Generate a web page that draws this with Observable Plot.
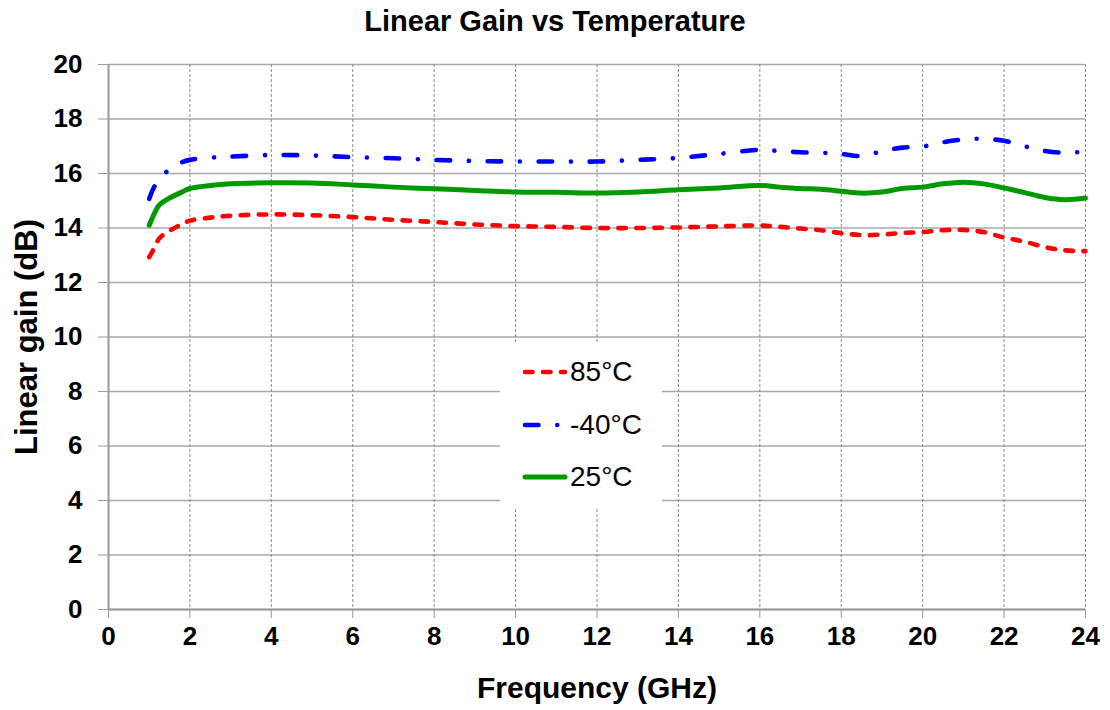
<!DOCTYPE html>
<html><head><meta charset="utf-8">
<script src="https://cdn.jsdelivr.net/npm/d3@7"></script>
<script src="https://cdn.jsdelivr.net/npm/@observablehq/plot@0.6"></script>
<style>
body{margin:0;background:#fff;font-family:"Liberation Sans",Arial,sans-serif;}
#wrap{position:relative;width:1110px;height:710px;background:#fff;}
#title{height:40px;line-height:42px;text-align:center;font-weight:bold;font-size:29px;color:#000;}
#legend{position:absolute;left:500px;top:344px;width:162px;height:163px;background:#fff;}
.row{position:absolute;left:22px;height:36px;display:flex;align-items:center;font-size:28px;color:#000;}
.row svg{margin-right:2px;}
</style></head>
<body>
<div id="wrap">
  <div id="title">Linear Gain vs Temperature</div>
  <div id="chart"></div>
  <div id="legend"></div>
</div>
<script>
// ---- data ----
const freq    = [1, 1.1, 1.25, 1.5, 1.75, 2, 2.5, 3, 4, 5, 6, 7, 8, 9, 10, 11, 12, 13, 14, 15, 16, 16.5, 17, 17.5, 18, 18.5, 19, 19.5, 20, 20.5, 21, 21.5, 22, 22.5, 23, 23.5, 24];
const gain85  = [12.93, 13.2, 13.62, 13.9, 14.1, 14.27, 14.38, 14.45, 14.5, 14.47, 14.4, 14.3, 14.22, 14.13, 14.07, 14.04, 14.0, 14.0, 14.02, 14.06, 14.09, 14.04, 13.98, 13.92, 13.81, 13.74, 13.76, 13.82, 13.85, 13.92, 13.93, 13.85, 13.65, 13.5, 13.3, 13.18, 13.15];
const gainM40 = [15.07, 15.44, 15.8, 16.15, 16.38, 16.5, 16.58, 16.62, 16.68, 16.66, 16.6, 16.56, 16.5, 16.46, 16.44, 16.44, 16.44, 16.5, 16.57, 16.72, 16.87, 16.82, 16.78, 16.76, 16.72, 16.64, 16.82, 16.95, 16.99, 17.15, 17.25, 17.27, 17.2, 17.0, 16.83, 16.76, 16.81];
const gain25  = [14.1, 14.45, 14.85, 15.1, 15.28, 15.45, 15.56, 15.62, 15.66, 15.65, 15.58, 15.5, 15.44, 15.38, 15.32, 15.31, 15.28, 15.32, 15.4, 15.47, 15.56, 15.5, 15.45, 15.42, 15.35, 15.28, 15.32, 15.45, 15.5, 15.62, 15.68, 15.62, 15.47, 15.3, 15.12, 15.04, 15.1];
const seriesNames = ["85°C", "-40°C", "25°C"];
const seriesColors = ["#ff0000", "#0000ff", "#009900"];
const seriesDash = ["7.5,10.5", "13.5,18.75,0.01,18.75", null];
const xTicks = [0, 2, 4, 6, 8, 10, 12, 14, 16, 18, 20, 22, 24];
const yTicks = [0, 2, 4, 6, 8, 10, 12, 14, 16, 18, 20];

const allGains = [gain85, gainM40, gain25];
const data = [];
seriesNames.forEach((s, i) => freq.forEach((f, j) => data.push({series: s, freq: f, gain: allGains[i][j]})));

const font = '"Liberation Sans", Arial, sans-serif';
const lineMarks = seriesNames.map((s, i) => Plot.line(data.filter(d => d.series === s), {
  x: "freq", y: "gain", stroke: seriesColors[i], strokeWidth: i === 2 ? 5 : 4.6,
  strokeDasharray: seriesDash[i] || undefined, strokeLinecap: "round", strokeLinejoin: "round",
  curve: "catmull-rom"
}));

const chart = Plot.plot({
  width: 1110, height: 670,
  marginTop: 24, marginBottom: 101, marginLeft: 108, marginRight: 25,
  style: {fontFamily: font, fontSize: "26px", fontWeight: "bold", background: "#fff", color: "#000", overflow: "visible"},
  x: {domain: [0, 24]},
  y: {domain: [0, 20]},
  marks: [
    Plot.gridY(yTicks, {stroke: "#a8a8a8", strokeOpacity: 1, strokeWidth: 1.6}),
    Plot.gridX(xTicks, {stroke: "#8a8a8a", strokeOpacity: 1, strokeWidth: 1, strokeDasharray: "3,2"}),
    Plot.ruleX([0], {stroke: "#9a9a9a", strokeWidth: 2}),
    Plot.ruleY([0], {stroke: "#9a9a9a", strokeWidth: 2}),
    Plot.axisY(yTicks, {tickSize: 10, tickPadding: 16, stroke: "#9a9a9a", fill: "#000", label: null}),
    Plot.axisX(xTicks, {tickSize: 9, tickPadding: 8, stroke: "#9a9a9a", fill: "#000", label: null}),
    Plot.text(["Linear gain (dB)"], {frameAnchor: "left", dx: -81, rotate: -90, textAnchor: "middle", lineAnchor: "middle", fontSize: 31, fontWeight: "bold", fill: "#000"}),
    Plot.text(["Frequency (GHz)"], {frameAnchor: "bottom", dy: 79, textAnchor: "middle", lineAnchor: "middle", fontSize: 30, fontWeight: "bold", fill: "#000"}),
    ...lineMarks
  ]
});
document.getElementById("chart").appendChild(chart);

// legend (HTML overlay inside the plot area)
const legend = document.getElementById("legend");
const rowTops = [10, 63, 115];
seriesNames.forEach((s, i) => {
  const row = document.createElement("div");
  row.className = "row";
  row.style.top = rowTops[i] + "px";
  const dash = seriesDash[i] ? `stroke-dasharray="${seriesDash[i]}"` : "";
  row.innerHTML = `<svg width="46" height="12"><line x1="3" y1="6" x2="43" y2="6" stroke="${seriesColors[i]}" stroke-width="${i === 2 ? 5 : 4.6}" stroke-linecap="round" ${dash}/></svg><span>${s}</span>`;
  legend.appendChild(row);
});
</script>
</body></html>
